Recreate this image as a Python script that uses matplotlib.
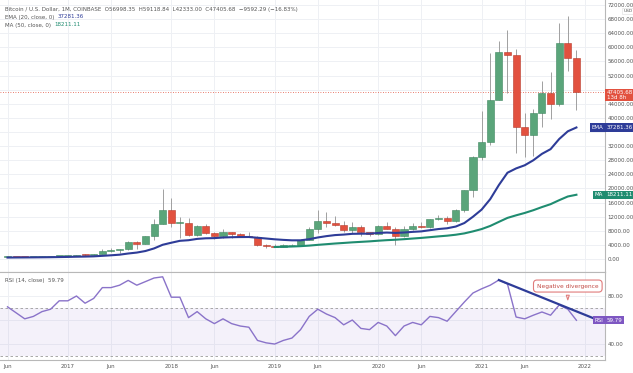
import numpy as np
import matplotlib.pyplot as plt

# Monthly BTC/USD candles, Jun 2016 .. Dec 2021 (Coinbase)
opens = [531, 673, 624, 575, 609, 700, 745,
         964, 970, 1190, 1080, 1350, 2290, 2480, 2875, 4750, 4340, 6440, 9950,
         13880, 10110, 10330, 6935, 9250, 7500, 6400, 7730, 7010, 6625, 6370, 4040,
         3740, 3440, 3850, 4105, 5320, 8575, 10820, 10080, 9590, 8290, 9150, 7540,
         7195, 9350, 8525, 6410, 8630, 9450, 9135, 11350, 11655, 10780, 13800, 19700,
         28990, 33110, 45200, 58800, 57720, 37300, 35040, 41460, 47100, 43800, 61300, 56998.35]
highs = [780, 704, 627, 628, 720, 755, 975,
         1150, 1200, 1300, 1350, 2780, 3000, 2950, 4980, 4980, 6470, 11400, 19891,
         17250, 11790, 11700, 9770, 9990, 7770, 8490, 7760, 7410, 7680, 6600, 4240,
         4120, 4210, 4135, 5640, 9100, 13880, 13200, 12320, 10900, 10540, 9500, 7750,
         9580, 10500, 9190, 9470, 10070, 10380, 11450, 12490, 12070, 14100, 19490, 29300,
         41990, 58350, 61790, 64900, 59600, 41330, 42450, 50500, 52950, 67000, 69000, 59118.84]
lows = [530, 604, 540, 570, 605, 685, 742,
        750, 920, 890, 1060, 1345, 2100, 1840, 2660, 2970, 4160, 5500, 10000,
        9200, 5870, 6600, 6430, 7040, 5780, 6070, 5880, 6100, 6200, 3650, 3120,
        3350, 3390, 3670, 4040, 5320, 7450, 9070, 9330, 7710, 7300, 6520, 6430,
        6860, 8450, 3850, 6150, 8120, 8820, 8900, 10990, 9860, 10370, 13240, 17570,
        28130, 32300, 45000, 47000, 30000, 28800, 29280, 37330, 39600, 43280, 53260, 42333.00]
closes = [673, 624, 575, 609, 700, 745, 964,
          970, 1190, 1080, 1350, 2290, 2480, 2875, 4750, 4340, 6440, 9950, 13880,
          10110, 10330, 6935, 9250, 7500, 6400, 7730, 7010, 6625, 6370, 4040, 3740,
          3440, 3850, 4105, 5320, 8575, 10820, 10080, 9590, 8290, 9150, 7540, 7195,
          9350, 8525, 6410, 8630, 9450, 9135, 11350, 11655, 10780, 13800, 19700, 28990,
          33110, 45200, 58800, 57720, 37300, 35040, 41460, 47100, 43800, 61300, 57000, 47405.68]

# EMA 20
ema20 = [408, 429, 443, 459, 482, 507, 550,
         590, 647, 688, 751, 897, 1048, 1222, 1558, 1823, 2263, 2995, 4031,
         4610, 5155, 5325, 5699, 5870, 5920, 6092, 6179, 6221, 6235, 6026, 5808,
         5583, 5418, 5293, 5296, 5608, 6104, 6483, 6779, 6923, 7135, 7174, 7176,
         7383, 7492, 7389, 7507, 7692, 7829, 8164, 8496, 8713, 9197, 10197, 11986,
         13997, 16968, 20952, 24453, 25676, 26567, 27985, 29805, 31137, 34008, 36197, 37281.36]

# MA 50 starts Jan 2019 (index 31)
ma50_start = 31
ma50 = [3400, 3470, 3540, 3640, 3800, 4010, 4200, 4390, 4550, 4720, 4860, 5000,
        5180, 5340, 5460, 5620, 5800, 5980, 6190, 6410, 6610, 6880, 7260, 7830,
        8480, 9370, 10520, 11650, 12380, 13050, 13830, 14720, 15540, 16670, 17720, 18211.11]

rsi = [71, 66, 61, 63, 67, 69, 76,
       76, 80, 74, 78, 87, 87, 89, 93, 89, 92, 95, 96,
       79, 79, 62, 67, 61, 57, 61, 57, 55, 54, 43, 41,
       40, 43, 45, 52, 63, 69, 65, 62, 56, 60, 53, 52,
       58, 55, 47, 55, 58, 56, 63, 62, 59, 67, 75, 82.5,
       86, 89, 93.3, 90, 62.5, 61, 64, 66.7, 64, 72.5, 69, 59.79]

tick_pos = [0, 7, 12, 19, 24, 31, 36, 43, 48, 55, 60, 67]
tick_lab = ['Jun', '2017', 'Jun', '2018', 'Jun', '2019', 'Jun', '2020', 'Jun', '2021', 'Jun', '2022']
price_ticks = list(range(0, 72001, 4000))
hidden_ticks = [48000, 36000]   # covered by the price / EMA tags

up_col, dn_col = '#5aa57a', '#e2513f'
ema_col, ma_col, rsi_col = '#2e3c98', '#1f8c70', '#8a73c9'
grid_col = '#eef0f4'
txt_col = '#555555'

W, H = 633, 373
fig = plt.figure(figsize=(W / 100, H / 100), dpi=100)
ax1 = fig.add_axes([0, (H - 272) / H, 605 / W, 272 / H])
ax2 = fig.add_axes([0, (H - 360) / H, 605 / W, 88 / H])

n = len(closes)
x = np.arange(n)
xmin = -7.5 / 8.62
xmax = (605 - 7.5) / 8.62

# price pane
o = np.array(opens); c = np.array(closes)
cols = [up_col if cc >= oo else dn_col for oo, cc in zip(o, c)]
edges = ['#3f8760' if cc >= oo else '#b83a2b' for oo, cc in zip(o, c)]
ax1.vlines(x, lows, highs, color='#a0a0a0', lw=0.7, zorder=2)
body = np.maximum(np.abs(c - o), 250)
ax1.bar(x, body, bottom=np.minimum(o, c), width=0.82, color=cols, edgecolor=edges,
        linewidth=0.4, zorder=3)
ax1.plot(x, ema20, color=ema_col, lw=1.5, zorder=4)
ax1.plot(x[ma50_start:], ma50, color=ma_col, lw=1.5, zorder=4)
ax1.axhline(closes[-1], color=dn_col, lw=0.6, ls=(0, (1, 2)), zorder=1)

ax1.set_xlim(xmin, xmax)
ax1.set_ylim(-13 / 254 * 72000, 259 / 254 * 72000)
ax1.set_yticks(price_ticks)
ax1.set_yticklabels(['' if v in hidden_ticks else f'{v:.2f}' for v in price_ticks])
ax1.yaxis.tick_right()
ax1.tick_params(axis='y', length=0, pad=2, labelsize=4, labelcolor=txt_col)
ax1.set_xticks(tick_pos)
ax1.tick_params(axis='x', length=0, labelbottom=False)
ax1.grid(True, color=grid_col, lw=0.7, zorder=0)
ax1.set_axisbelow(True)
for s in ['top', 'left']:
    ax1.spines[s].set_visible(False)
ax1.spines['right'].set_color('#b8b8b8')
ax1.spines['bottom'].set_color('#b8b8b8')

ytr = ax1.get_yaxis_transform()
lab = dict(fontsize=4, color='white', va='center', transform=ytr, clip_on=False, zorder=10)
ax1.text(1.003, closes[-1] - 900, '47405.68\n13d 8h', ha='left', linespacing=1.0,
         bbox=dict(boxstyle='square,pad=0.25', fc=dn_col, ec='none'), **lab)
ax1.text(1.003, ema20[-1], '37281.36', ha='left',
         bbox=dict(boxstyle='square,pad=0.3', fc=ema_col, ec='none'), **lab)
ax1.text(0.997, ema20[-1], 'EMA', ha='right',
         bbox=dict(boxstyle='square,pad=0.3', fc=ema_col, ec='none'), **lab)
ax1.text(1.003, ma50[-1], '18211.11', ha='left',
         bbox=dict(boxstyle='square,pad=0.3', fc=ma_col, ec='none'), **lab)
ax1.text(0.997, ma50[-1], 'MA', ha='right',
         bbox=dict(boxstyle='square,pad=0.3', fc=ma_col, ec='none'), **lab)
ax1.text(1.03, 70300, 'USD', ha='left', va='center', fontsize=3.2, color=txt_col,
         transform=ytr, clip_on=False,
         bbox=dict(boxstyle='square,pad=0.2', fc='white', ec='#dddddd', lw=0.4))

# RSI pane
ax2.plot(x, rsi, color=rsi_col, lw=1.0, zorder=4)
ax2.axhspan(30, 70, color='#7e57c2', alpha=0.08, lw=0, zorder=1)
for lvl in (70, 30):
    ax2.axhline(lvl, color='#9a9a9a', lw=0.6, ls=(0, (3, 3)), zorder=2)
ax2.plot([57, 67.9], [93.3, 61.7], color=ema_col, lw=1.6, zorder=5)
ax2.annotate('Negative divergence', xy=(65.0, 74.5), xytext=(65.0, 88.3),
             ha='center', va='center', fontsize=4.2, color='#c24b45', zorder=6,
             bbox=dict(boxstyle='round,pad=0.6', fc='white', ec='#e07b7b', lw=0.8),
             arrowprops=dict(arrowstyle='wedge,tail_width=0.5', fc='white',
                             ec='#e07b7b', lw=0.8))
ax2.set_xlim(xmin, xmax)
ax2.set_ylim(26.7, 100)
ax2.set_yticks([40, 60, 80])
ax2.set_yticklabels(['40.00', '', '80.00'])
ax2.yaxis.tick_right()
ax2.tick_params(axis='y', length=0, pad=2, labelsize=4, labelcolor=txt_col)
ax2.set_xticks(tick_pos)
ax2.set_xticklabels(tick_lab)
ax2.tick_params(axis='x', length=0, pad=3, labelsize=4, labelcolor=txt_col)
ax2.grid(True, color=grid_col, lw=0.7, zorder=0)
ax2.set_axisbelow(True)
ax2.spines['left'].set_visible(False)
for s in ['right', 'bottom', 'top']:
    ax2.spines[s].set_color('#b8b8b8')
ytr2 = ax2.get_yaxis_transform()
ax2.text(1.003, rsi[-1], '59.79', ha='left', va='center', fontsize=4, color='white',
         transform=ytr2, clip_on=False, zorder=10,
         bbox=dict(boxstyle='square,pad=0.3', fc='#7e57c2', ec='none'))
ax2.text(0.997, rsi[-1], 'RSI', ha='right', va='center', fontsize=4, color='white',
         transform=ytr2, clip_on=False, zorder=10,
         bbox=dict(boxstyle='square,pad=0.3', fc='#7e57c2', ec='none'))
ax2.text(0.008, 0.93, 'RSI (14, close)  59.79', transform=ax2.transAxes, fontsize=4,
         color=txt_col, va='top')

# legend lines top-left; values placed right after the measured label text
fig.text(5 / W, 1 - 9 / H, 'Bitcoin / U.S. Dollar, 1M, COINBASE  O56998.35  H59118.84  '
         'L42333.00  C47405.68  \u22129592.29 (\u221216.83%)', fontsize=4, color=txt_col,
         va='center')
renderer = fig.canvas.get_renderer()
for row_y, name, val, col in [(17, 'EMA (20, close, 0)', '37281.36', ema_col),
                              (25, 'MA (50, close, 0)', '18211.11', ma_col)]:
    t = fig.text(5 / W, 1 - row_y / H, name, fontsize=4, color=txt_col, va='center')
    bb = t.get_window_extent(renderer)
    fig.text((bb.x1 + 3) / W, 1 - row_y / H, val, fontsize=4, color=col, va='center')

fig.savefig('out.png', dpi=100, facecolor='white')
